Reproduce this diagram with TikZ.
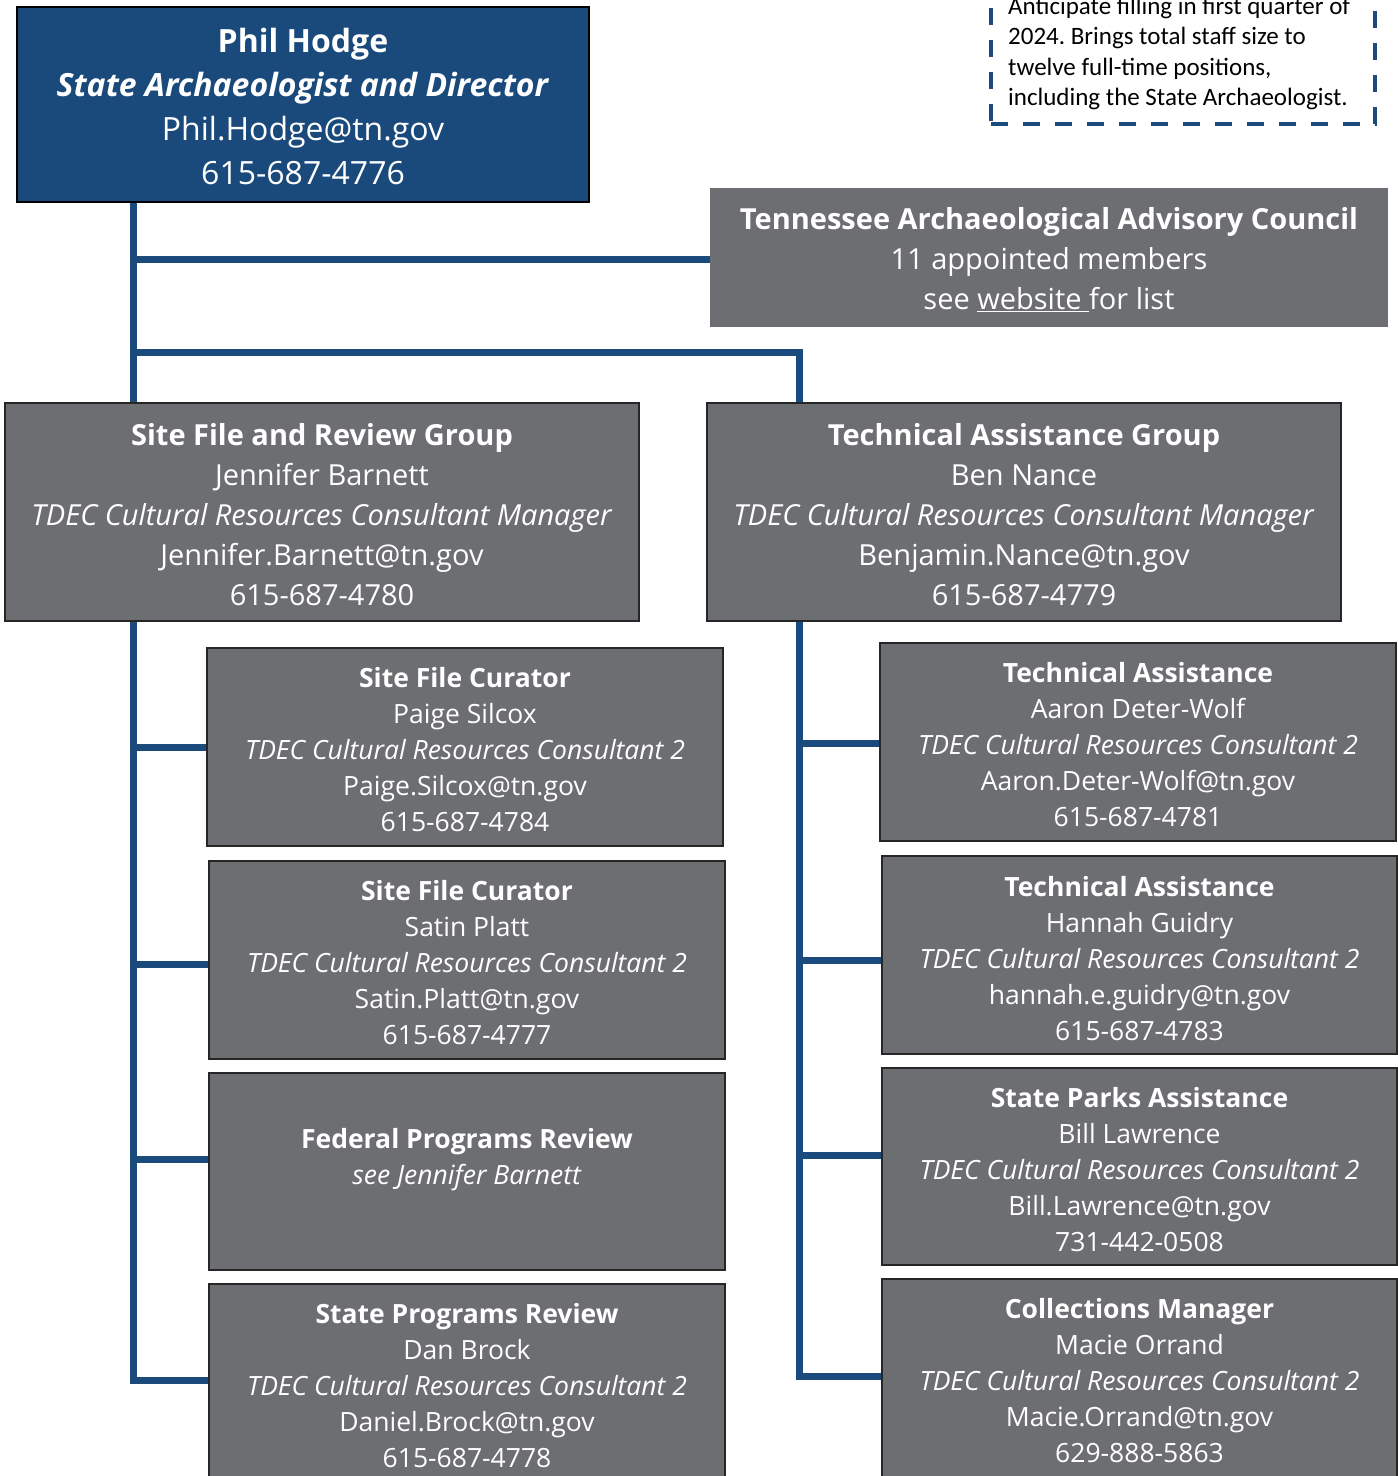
\documentclass[tikz,border=0pt]{standalone}
\usepackage{fontspec}
\setmainfont{Open Sans}
\newfontfamily\notefont{Carlito}
\usetikzlibrary{calc}
\definecolor{boxgray}{RGB}{109,110,113}
\definecolor{topblue}{RGB}{26,74,123}
\definecolor{connblue}{RGB}{27,75,125}
\frenchspacing
\begin{document}
\begin{tikzpicture}[x=1pt,y=-1pt,
  conn/.style={draw=connblue,line width=7pt},
  topbox/.style={draw=black,line width=1.5pt,fill=topblue,inner sep=0pt},
  councilbox/.style={fill=boxgray,inner sep=0pt},
  graybox/.style={draw=black!85,line width=1.5pt,fill=boxgray,inner sep=0pt},
  toptext/.style={text=white,align=center,inner sep=0pt,font=\fontsize{32}{44}\selectfont},
  grptext/.style={text=white,align=center,inner sep=0pt,font=\fontsize{29}{40}\selectfont},
  subtext/.style={text=white,align=center,inner sep=0pt,font=\fontsize{26.5}{36}\selectfont},
  notebox/.style={draw=connblue,line width=4pt,dash pattern=on 17pt off 15pt,outer sep=0pt,inner sep=0pt},
  notetext/.style={text=black,align=left,inner sep=0pt,font=\notefont\fontsize{25}{30.5}\selectfont}
]
\useasboundingbox (0,0) rectangle (1398,1476);
\clip (0,0) rectangle (1398,1476);

% note box (cut at the top)
\node[notebox,minimum width=384,minimum height=170,anchor=south west] (note) at (991,124) {};
\node[notetext,anchor=south west] (notetxt) at (1008,110)
  {Anticipate filling in first quarter of\\2024. Brings total staff size to\\twelve full-time positions,\\including the State Archaeologist.};

% boxes
\node[topbox,minimum width=572,minimum height=195] (top) at (303,104.5) {};
\node[councilbox,minimum width=678,minimum height=139] (council) at (1049,257.5) {};
\node[graybox,minimum width=634,minimum height=218] (sfg) at (322,512) {};
\node[graybox,minimum width=634,minimum height=218] (tag) at (1024,512) {};
\node[graybox,minimum width=516,minimum height=198] (s1) at (465,747) {};
\node[graybox,minimum width=516,minimum height=198] (s2) at (467,960) {};
\node[graybox,minimum width=516,minimum height=197] (s3) at (467,1171.5) {};
\node[graybox,minimum width=516,minimum height=203] (s4) at (467,1385.5) {};
\node[graybox,minimum width=516,minimum height=198] (r1) at (1138,742) {};
\node[graybox,minimum width=515,minimum height=198] (r2) at (1139.5,955) {};
\node[graybox,minimum width=515,minimum height=197] (r3) at (1139.5,1166.5) {};
\node[graybox,minimum width=515,minimum height=203] (r4) at (1139.5,1380.5) {};

% texts
\node[toptext] (topt) at ($(top.center)+(0,2)$)
  {\textbf{Phil Hodge}\\\textbf{\textit{State Archaeologist and Director}}\\Phil.Hodge@tn.gov\\615-687-4776};
\node[grptext] (councilt) at ($(council.center)+(0,2)$)
  {\textbf{Tennessee Archaeological Advisory Council}\\11 appointed members\\see \underline{website\ }for list};
\node[grptext] (sfgt) at ($(sfg.center)+(0,3)$)
  {\textbf{Site File and Review Group}\\Jennifer Barnett\\\textit{TDEC Cultural Resources Consultant Manager}\\Jennifer.Barnett@tn.gov\\615-687-4780};
\node[grptext] (tagt) at ($(tag.center)+(0,3)$)
  {\textbf{Technical Assistance Group}\\Ben Nance\\\textit{TDEC Cultural Resources Consultant Manager}\\Benjamin.Nance@tn.gov\\615-687-4779};
\node[subtext] (s1t) at ($(s1.center)+(0,3)$)
  {\textbf{Site File Curator}\\Paige Silcox\\\textit{TDEC Cultural Resources Consultant 2}\\Paige.Silcox@tn.gov\\615-687-4784};
\node[subtext] (s2t) at ($(s2.center)+(0,3)$)
  {\textbf{Site File Curator}\\Satin Platt\\\textit{TDEC Cultural Resources Consultant 2}\\Satin.Platt@tn.gov\\615-687-4777};
\node[subtext] (s3t) at ($(s3.center)+(0,3)$)
  {\textbf{Federal Programs Review}\\\textit{see Jennifer Barnett}\\\mbox{}};
\node[subtext] (s4t) at ($(s4.center)+(0,0)$)
  {\textbf{State Programs Review}\\Dan Brock\\\textit{TDEC Cultural Resources Consultant 2}\\Daniel.Brock@tn.gov\\615-687-4778};
\node[subtext] (r1t) at ($(r1.center)+(0,3)$)
  {\textbf{Technical Assistance}\\Aaron Deter-Wolf\\\textit{TDEC Cultural Resources Consultant 2}\\Aaron.Deter-Wolf@tn.gov\\615-687-4781};
\node[subtext] (r2t) at ($(r2.center)+(0,3.5)$)
  {\textbf{Technical Assistance}\\Hannah Guidry\\\textit{TDEC Cultural Resources Consultant 2}\\hannah.e.guidry@tn.gov\\615-687-4783};
\node[subtext] (r3t) at ($(r3.center)+(0,3)$)
  {\textbf{State Parks Assistance}\\Bill Lawrence\\\textit{TDEC Cultural Resources Consultant 2}\\Bill.Lawrence@tn.gov\\731-442-0508};
\node[subtext] (r4t) at ($(r4.center)+(0,0.5)$)
  {\textbf{Collections Manager}\\Macie Orrand\\\textit{TDEC Cultural Resources Consultant 2}\\Macie.Orrand@tn.gov\\629-888-5863};

% connector guide coordinates
\coordinate (lx) at (133,0);
\coordinate (rx) at (799,0);
\coordinate (jn) at (130,352);
\coordinate (b1) at ($(s1.north west)+(0,100)$);
\coordinate (b2) at ($(s2.north west)+(0,104)$);
\coordinate (b3) at ($(s3.north west)+(0,87)$);
\coordinate (b4) at ($(s4.north west)+(0,97)$);
\coordinate (c1) at ($(r1.north west)+(0,101)$);
\coordinate (c2) at ($(r2.north west)+(0,105)$);
\coordinate (c3) at ($(r3.north west)+(0,88)$);
\coordinate (c4) at ($(r4.north west)+(0,98)$);

% connectors
\draw[conn] (top.south -| lx) -- (sfg.north -| lx);
\draw[conn] (lx |- council.west) ++(0,2) -- ($(council.west)+(0,2)$);
\draw[conn] (jn) -- (jn -| rx) -- (tag.north -| rx);
\draw[conn] (sfg.south -| lx) -- (lx |- b4) -- (b4);
\draw[conn] (lx |- b1) -- (b1);
\draw[conn] (lx |- b2) -- (b2);
\draw[conn] (lx |- b3) -- (b3);
\draw[conn] (tag.south -| rx) -- (rx |- c4) -- (c4);
\draw[conn] (rx |- c1) -- (c1);
\draw[conn] (rx |- c2) -- (c2);
\draw[conn] (rx |- c3) -- (c3);
\end{tikzpicture}
\end{document}
